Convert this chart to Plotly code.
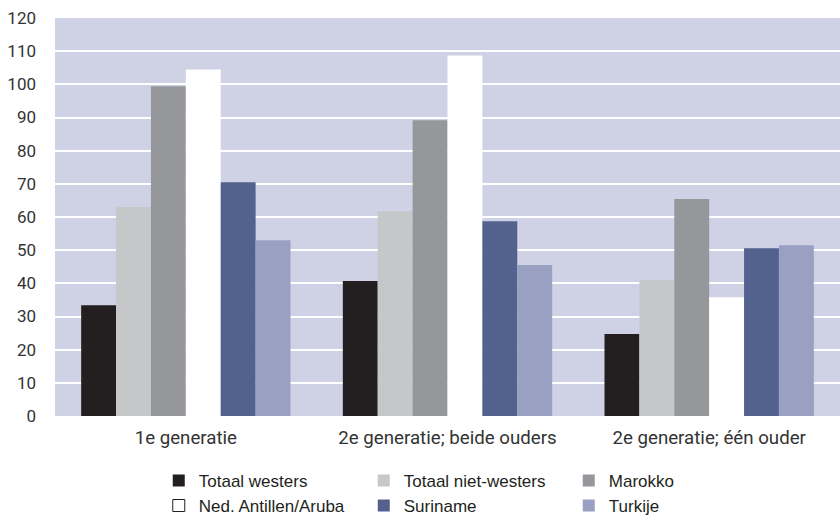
import plotly.graph_objects as go

categories = ["1e generatie", "2e generatie; beide ouders", "2e generatie; één ouder"]
series_names = ["Totaal westers", "Totaal niet-westers", "Marokko",
                "Ned. Antillen/Aruba", "Suriname", "Turkije"]
totaal_westers = [33.4, 40.7, 24.7]
totaal_niet_westers = [63.0, 61.7, 41.0]
marokko = [99.4, 89.2, 65.4]
ned_antillen = [104.5, 108.7, 35.8]
suriname = [70.5, 58.7, 50.6]
turkije = [53.0, 45.5, 51.5]
y_ticks = list(range(0, 121, 10))

values = [totaal_westers, totaal_niet_westers, marokko, ned_antillen, suriname, turkije]
colors = ["#231F20", "#C6C7C9", "#96979B", "#FFFFFF", "#53618F", "#9AA0C2"]

fig = go.Figure()
for i, (name, vals, c) in enumerate(zip(series_names, values, colors)):
    if c == "#FFFFFF":
        # legend entry with an outlined white box (no visible bar)
        fig.add_trace(go.Bar(
            name=name, x=categories[:1], y=[None], offsetgroup=str(i), legendrank=i + 1,
            marker=dict(color=c, line=dict(width=1, color="#231F20")),
        ))
        fig.add_trace(go.Bar(
            name=name, x=categories, y=vals, offsetgroup=str(i),
            showlegend=False, marker=dict(color=c, line=dict(width=0)),
        ))
    else:
        fig.add_trace(go.Bar(
            name=name, x=categories, y=vals, offsetgroup=str(i), legendrank=i + 1,
            marker=dict(color=c, line=dict(width=0)),
        ))

fig.update_layout(
    width=840, height=516,
    margin=dict(l=55, r=0, t=18, b=100, autoexpand=False),
    barmode="group", bargap=0.2, bargroupgap=0,
    plot_bgcolor="#CFD2E4", paper_bgcolor="#FFFFFF",
    font=dict(family="Roboto", size=18, color="#333333"),
    showlegend=True,
    legend=dict(
        orientation="h", xref="container", x=0.189, xanchor="left",
        yref="container", y=0.103, yanchor="top",
        entrywidth=160, entrywidthmode="pixels",
        font=dict(family="Liberation Sans", size=17, color="#231F20"),
        traceorder="normal",
    ),
)
fig.update_yaxes(range=[0, 120], tickvals=y_ticks, showgrid=True,
                 gridcolor="#FFFFFF", gridwidth=2, zeroline=False,
                 showline=False, ticks="", ticklabelstandoff=18, automargin=False,
                 tickfont=dict(size=17))
fig.update_xaxes(showgrid=False, showline=False, ticks="", ticklabelstandoff=8,
                 tickfont=dict(size=18.7), automargin=False)

fig.write_html("out.html", post_script="document.body.style.margin='0';",
               config={"displayModeBar": False})
